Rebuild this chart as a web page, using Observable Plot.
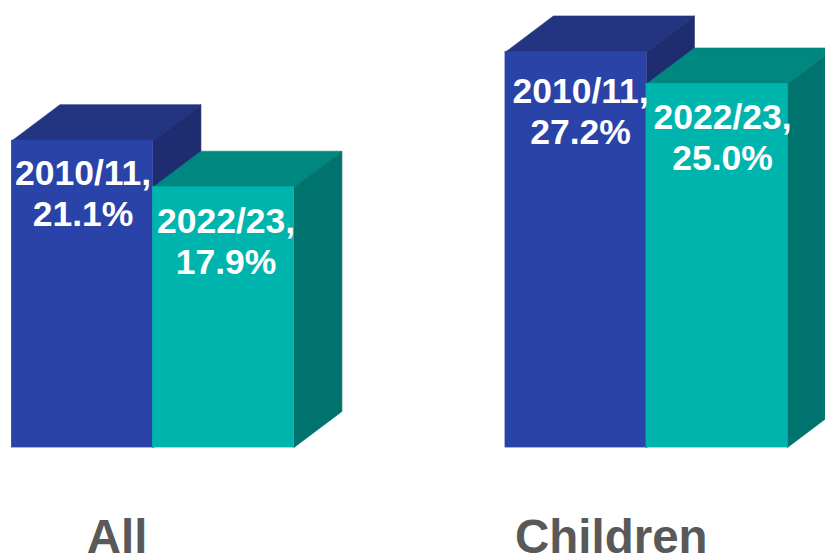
<!DOCTYPE html>
<html>
<head>
<meta charset="utf-8">
<script src="https://cdn.jsdelivr.net/npm/d3@7"></script>
<script src="https://cdn.jsdelivr.net/npm/@observablehq/plot@0.6"></script>
<style>
  html, body { margin: 0; padding: 0; background: #fff; }
  svg { display: block; }
</style>
</head>
<body>
<div id="chart"></div>
<script>
// Share of people in each group, by period (percent)
const categories = ["All", "Children"];
const periods = ["2010/11", "2022/23"];
const values2010 = [21.1, 27.2];
const values2022 = [17.9, 25.0];

// Face colours per period: front, top, side
const frontColors = ["#2a43a9", "#00b4ae"];
const topColors = ["#233480", "#008780"];
const sideColors = ["#1e2c70", "#00736e"];

// Extruded-box projection, in scale units (x: bar widths, y: percent)
const groupStarts = [0, 3.5];
const depthX = 0.34;
const depthY = 2.48;

// Label placement, in scale units
const labelShift = [[0.004, 0.018], [0.032, 0.039]];
const labelDrop = [[1.05, 1.16], [1.51, 1.1]];
const categoryCenters = [0.745, 4.25];
const categoryBaseline = -7.25;

const bars = categories.flatMap((category, g) =>
  [values2010[g], values2022[g]].map((value, p) => ({
    category,
    period: periods[p],
    value,
    x1: groupStarts[g] + p,
    x2: groupStarts[g] + p + 1,
    front: frontColors[p],
    top: topColors[p],
    side: sideColors[p],
    label: `${periods[p]},\n${value.toFixed(1)}%`,
    labelX: groupStarts[g] + p + 0.5 + labelShift[g][p],
    labelY: value - labelDrop[g][p]
  }))
);

// Top and side faces as closed outlines, painted in bar order
const faces = bars.flatMap((b, i) => {
  const outline = (name, fill, corners) =>
    corners.map(([x, y]) => ({id: `${i}-${name}`, x, y, fill}));
  return [
    ...outline("top", b.top, [
      [b.x1, b.value],
      [b.x1 + depthX, b.value + depthY],
      [b.x2 + depthX, b.value + depthY],
      [b.x2, b.value],
      [b.x1, b.value]
    ]),
    ...outline("side", b.side, [
      [b.x2, 0],
      [b.x2 + depthX, depthY],
      [b.x2 + depthX, b.value + depthY],
      [b.x2, b.value],
      [b.x2, 0]
    ])
  ];
});

const chart = Plot.plot({
  width: 825,
  height: 555,
  margin: 0,
  style: {background: "#fff"},
  x: {domain: [0, 5.75], range: [11.5, 822.25], axis: null},
  y: {domain: [0, 30], range: [447, 10.8], axis: null},
  color: {type: "identity"},
  marks: [
    Plot.line(faces, {
      x: "x",
      y: "y",
      z: "id",
      fill: "fill",
      stroke: "fill",
      strokeWidth: 0.6,
      curve: "linear"
    }),
    Plot.rect(bars, {
      x1: "x1",
      x2: "x2",
      y1: 0,
      y2: "value",
      fill: "front",
      stroke: "front",
      strokeWidth: 0.8,
      inset: 0
    }),
    Plot.text(bars, {
      x: "labelX",
      y: "labelY",
      text: "label",
      fill: "#fff",
      fontFamily: "Liberation Sans",
      fontWeight: 700,
      fontSize: 35.5,
      lineHeight: 1.155,
      lineAnchor: "top",
      textAnchor: "middle"
    }),
    Plot.text(categories, {
      x: (d, i) => categoryCenters[i],
      y: () => categoryBaseline,
      text: d => d,
      fill: "#595959",
      fontFamily: "Liberation Sans",
      fontWeight: 700,
      fontSize: 47.5,
      lineAnchor: "bottom",
      textAnchor: "middle"
    })
  ]
});

document.getElementById("chart").append(chart);
</script>
</body>
</html>
